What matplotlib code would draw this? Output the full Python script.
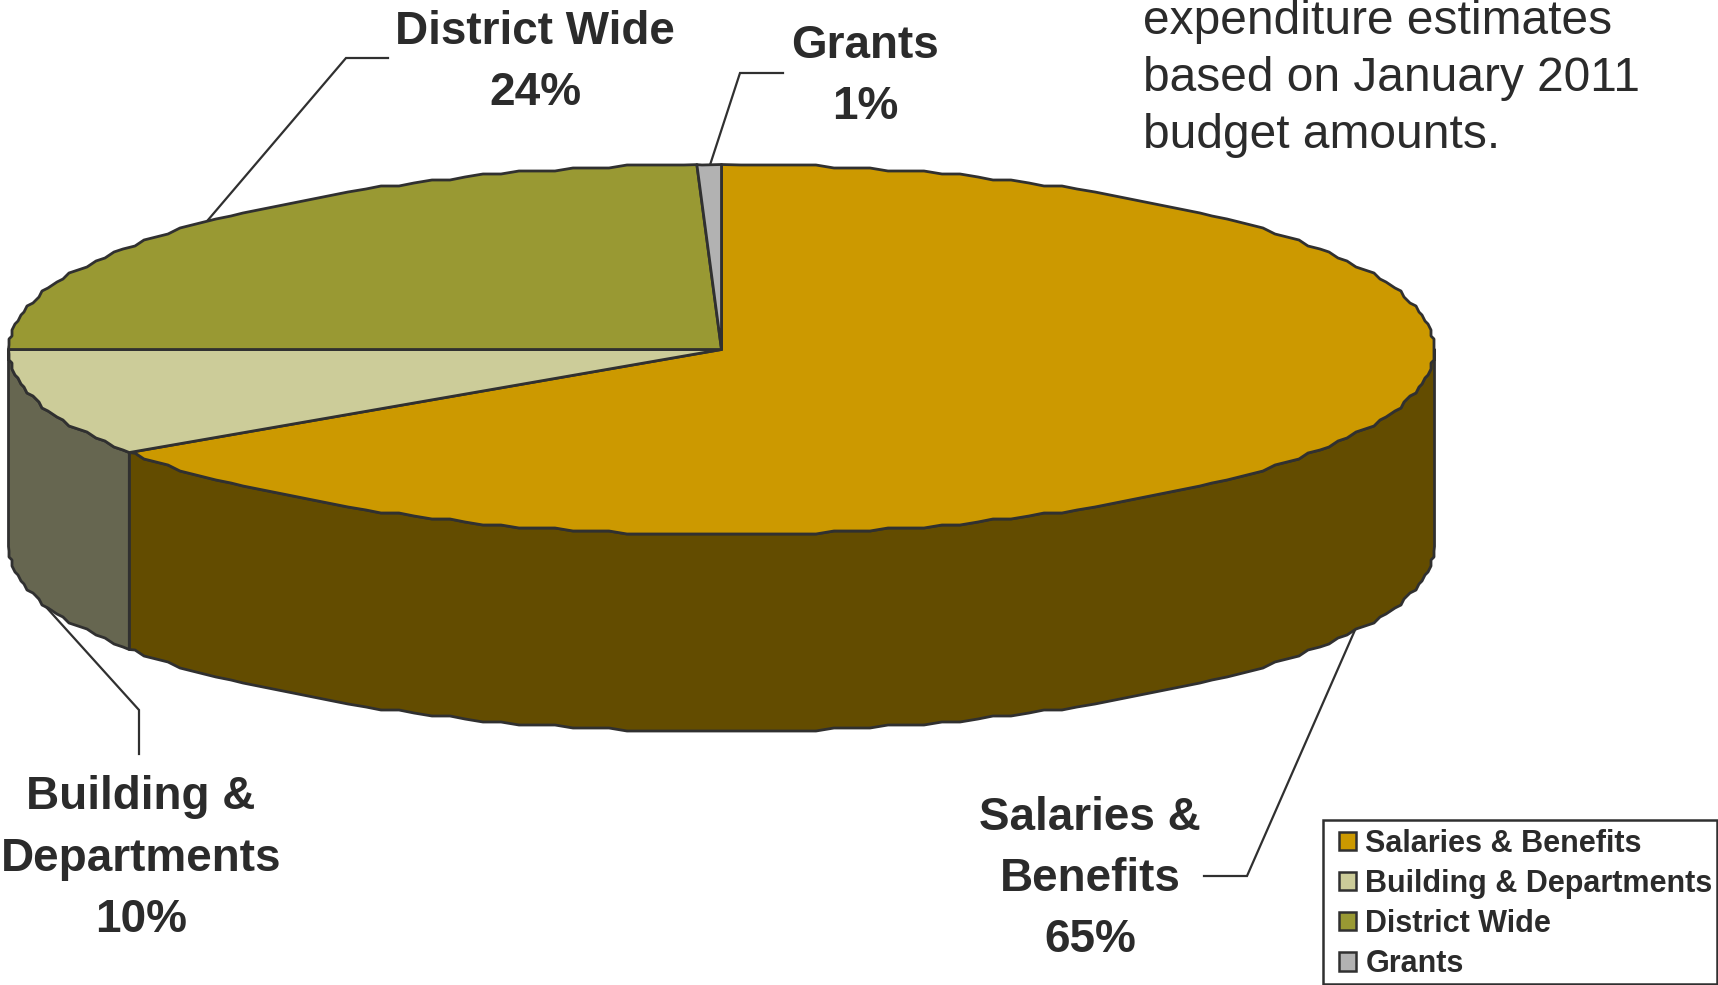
import numpy as np
import matplotlib
matplotlib.use("Agg")
import matplotlib.pyplot as plt
from matplotlib.patches import Polygon, Patch, Rectangle

categories = ["Salaries & Benefits", "Building & Departments", "District Wide", "Grants"]
shares = [65.6, 9.4, 24.45, 0.55]
label_lines = [["Salaries &", "Benefits", "65%"], ["Building &", "Departments", "10%"],
               ["District Wide", "24%"], ["Grants", "1%"]]
note_lines = ["expenditure estimates", "based on January 2011", "budget amounts."]
top_colors = ["#CC9900", "#CCCC99", "#999933", "#B2B2B2"]
side_colors = ["#634C00", "#666650", "#4C4C19", "#595959"]

INK = "#2B2B2B"
EDGE = "#303030"
W, H = 1718, 985
CX, CY, RX, RY, DEPTH = 721.5, 349.5, 713, 185, 197
GRID = 3.0
STEP = 1.5

plt.rcParams["font.family"] = ["Liberation Sans", "DejaVu Sans"]
fig = plt.figure(figsize=(W / 100, H / 100), dpi=100)
ax = fig.add_axes([0, 0, 1, 1])
ax.set_xlim(0, W)
ax.set_ylim(H, 0)
ax.axis("off")


def rim(a0, a1, dy=0.0):
    """Rim points between clockwise-from-top angles, on a coarse grid like the source raster."""
    lo, hi = min(a0, a1), max(a0, a1)
    grid_angles = np.arange(np.ceil(lo / STEP + 1e-6), np.floor(hi / STEP - 1e-6) + 1) * STEP
    xg = np.round((CX + RX * np.sin(np.radians(grid_angles))) / GRID) * GRID
    yg = np.round((CY - RY * np.cos(np.radians(grid_angles))) / GRID) * GRID
    ends = np.radians([lo, hi])
    x = np.concatenate([[CX + RX * np.sin(ends[0])], xg, [CX + RX * np.sin(ends[1])]])
    y = np.concatenate([[CY - RY * np.cos(ends[0])], yg, [CY - RY * np.cos(ends[1])]])
    pts = np.column_stack([x, y + dy])
    return pts if a0 <= a1 else pts[::-1]


edges = np.concatenate([[0], np.cumsum(shares)]) * 3.6

# side wall, only the near half of the rim
for i in range(len(shares)):
    a0, a1 = max(edges[i], 90), min(edges[i + 1], 270)
    if a1 > a0:
        pts = np.vstack([rim(a0, a1), rim(a1, a0, DEPTH)])
        ax.add_patch(Polygon(pts, closed=True, fc=side_colors[i], ec=EDGE, lw=2.0, joinstyle="round", zorder=2))

# top face
for i in range(len(shares)):
    pts = np.vstack([[[CX, CY]], rim(edges[i], edges[i + 1])])
    ax.add_patch(Polygon(pts, closed=True, fc=top_colors[i], ec=EDGE, lw=2.0, joinstyle="round", zorder=3))

# leader lines
leaders = [
    ([1355, 1247, 1204], [630, 876, 876]),
    ([37, 139, 139], [597, 710, 754]),
    ([208, 346, 388], [220, 58, 58]),
    ([710, 740, 783], [165, 73, 73]),
]
for lx, ly in leaders:
    ax.plot(lx, ly, color=EDGE, lw=1.6, solid_joinstyle="miter", zorder=1)

# data labels
label_pos = [(1090, [830, 891, 952]), (141, [809, 871, 932]), (535, [44, 105]), (865, [58, 119])]
for lines, (lx, ys) in zip(label_lines, label_pos):
    for s, y in zip(lines, ys):
        ax.text(lx, y, s, ha="center", va="baseline", fontsize=33, fontweight="bold", color=INK)

# note at top right
for s, y in zip(note_lines, [34, 91, 148]):
    ax.text(1143, y, s, ha="left", va="baseline", fontsize=34.5, color=INK)

# legend frame and entries
ax.add_patch(Rectangle((1323, 820), 394, 164, fc="white", ec=EDGE, lw=1.8, zorder=4))
handles = [Patch(fc=c, ec=EDGE, lw=1.8) for c in top_colors]
leg = ax.legend(handles, categories, loc="lower left", bbox_to_anchor=(1339, 979),
                bbox_transform=ax.transData, borderaxespad=0, frameon=False,
                handlelength=0.56, handleheight=0.56, handletextpad=0.3,
                labelspacing=0.33, borderpad=0, prop={"weight": "bold", "size": 22})
leg.set_zorder(5)
for t in leg.get_texts():
    t.set_color(INK)

fig.savefig("out.png", dpi=100)
